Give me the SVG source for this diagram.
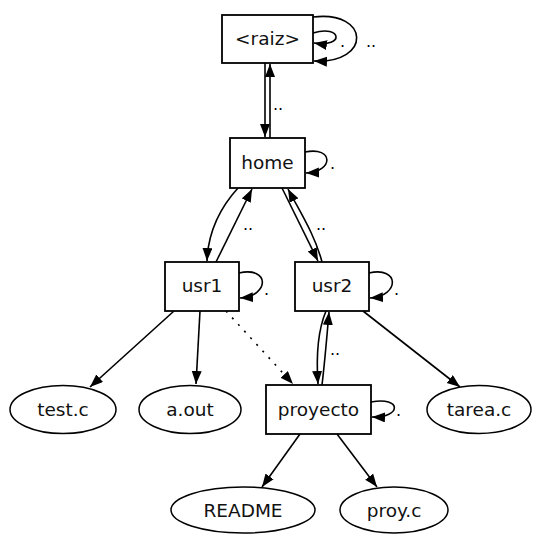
<svg xmlns="http://www.w3.org/2000/svg" width="545" height="534" viewBox="0 0 545 534">
<defs>
<marker id="ah" markerWidth="14" markerHeight="11" refX="13" refY="5" orient="auto" markerUnits="userSpaceOnUse">
<path d="M0,0 L13,5 L0,10 z" fill="#000"/>
</marker>
</defs>
<style>
.box{fill:#fff;stroke:#000;stroke-width:1.8}
.ell{fill:#fff;stroke:#000;stroke-width:1.5}
.t{font-family:"DejaVu Sans",sans-serif;font-size:18.5px;fill:#111;text-anchor:middle}
.l{font-family:"DejaVu Sans",sans-serif;font-size:16px;fill:#000}
.e{fill:none;stroke:#000;stroke-width:1.6;marker-end:url(#ah)}
.d{fill:none;stroke:#000;stroke-width:1.6;stroke-dasharray:2 7;marker-end:url(#ah)}
</style>
<rect width="545" height="534" fill="#fff"/>
<g id="edges">
<path class="e" d="M313,33 C342,24 345,48 314,43"/>
<path class="e" d="M313,17 C370,10 372,64 314,61"/>
<path class="e" d="M265,63 L265,137"/>
<path class="e" d="M270,138 L270,64"/>
<path class="e" d="M305,152 C334,146 334,172 306,173"/>
<path class="e" d="M238,188 C218,210 208,235 207,261"/>
<path class="e" d="M216,262 L252,189"/>
<path class="e" d="M282,188 L318,261"/>
<path class="e" d="M322,262 C315,235 300,212 288,189"/>
<path class="e" d="M239,273 C270,266 270,296 240,298"/>
<path class="e" d="M369,273 C400,266 400,296 370,298"/>
<path class="e" d="M174,311 L90,387"/>
<path class="e" d="M200,311 L196,384"/>
<path class="d" d="M226,311 L293,384"/>
<path class="e" d="M326,311 C318,330 316,355 318,384"/>
<path class="e" d="M322,385 C325,360 327,335 329,312"/>
<path class="e" d="M363,311 L460,387"/>
<path class="e" d="M371,402 C402,396 402,418 372,417"/>
<path class="e" d="M300,434 L262,487"/>
<path class="e" d="M337,434 L377,487"/>
<text class="l" x="340" y="47">.</text>
<text class="l" x="366" y="47">..</text>
<text class="l" x="273" y="110">..</text>
<text class="l" x="330" y="169">.</text>
<text class="l" x="243" y="230">..</text>
<text class="l" x="316" y="230">..</text>
<text class="l" x="264" y="295">.</text>
<text class="l" x="394" y="295">.</text>
<text class="l" x="330" y="355">..</text>
<text class="l" x="396" y="416">.</text>
</g>
<g id="raiz"><rect class="box" x="222" y="15" width="91" height="48"/><text class="t" x="267.5" y="45">&lt;raiz&gt;</text></g>
<g id="home"><rect class="box" x="230" y="138" width="75" height="50"/><text class="t" x="267.5" y="169">home</text></g>
<g id="usr1"><rect class="box" x="165" y="262" width="74" height="49"/><text class="t" x="202" y="292">usr1</text></g>
<g id="usr2"><rect class="box" x="295" y="262" width="74" height="49"/><text class="t" x="332" y="292">usr2</text></g>
<g id="proyecto"><rect class="box" x="266" y="385" width="105" height="49"/><text class="t" x="318.5" y="416">proyecto</text></g>
<g id="test.c"><ellipse class="ell" cx="63" cy="409.5" rx="53" ry="24"/><text class="t" x="63" y="416">test.c</text></g>
<g id="a.out"><ellipse class="ell" cx="190" cy="409.5" rx="51" ry="24"/><text class="t" x="190" y="416">a.out</text></g>
<g id="tarea.c"><ellipse class="ell" cx="479" cy="409.5" rx="52" ry="24"/><text class="t" x="479" y="416">tarea.c</text></g>
<g id="README"><ellipse class="ell" cx="243" cy="510" rx="72" ry="23"/><text class="t" x="243" y="516.5">README</text></g>
<g id="proy.c"><ellipse class="ell" cx="394" cy="510" rx="54" ry="23"/><text class="t" x="394" y="516.5">proy.c</text></g>
</svg>
